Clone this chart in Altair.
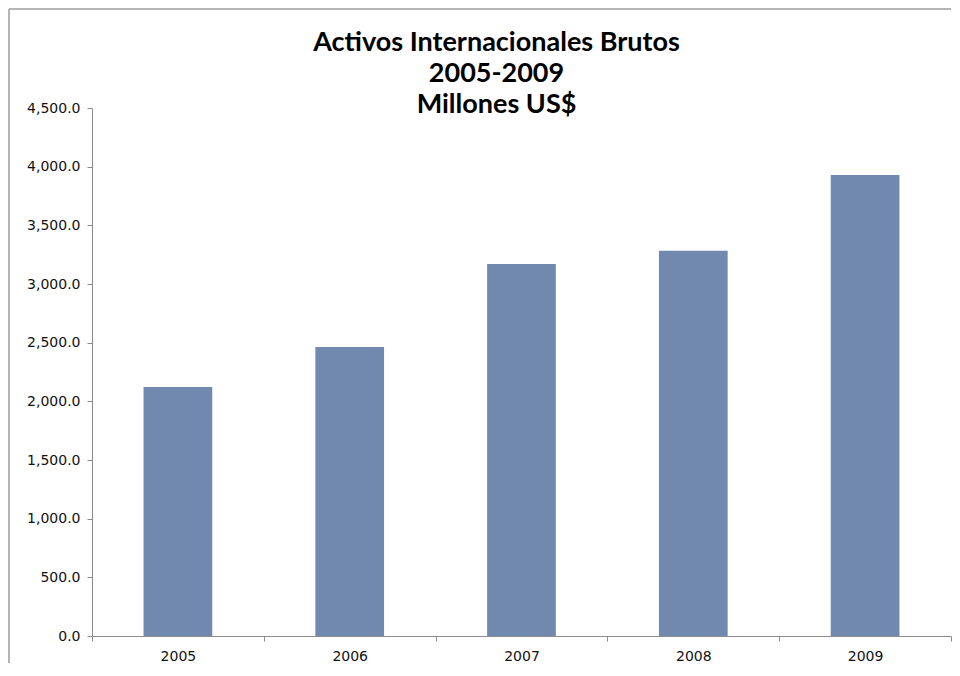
import altair as alt
import pandas as pd

years = ["2005", "2006", "2007", "2008", "2009"]
values = [2122.0, 2463.0, 3170.0, 3283.0, 3929.0]
y_ticks = [0, 500, 1000, 1500, 2000, 2500, 3000, 3500, 4000, 4500]
title_lines = ["Activos Internacionales Brutos", "2005-2009", "Millones US$"]

df = pd.DataFrame({"year": years, "value": values})

bars = alt.Chart(df).mark_bar(
    width=alt.RelativeBandSize(0.4), color="#7189AF"
).encode(
    x=alt.X("year:N", title=None, sort=years,
            scale=alt.Scale(paddingInner=0, paddingOuter=0),
            axis=alt.Axis(labelAngle=0, tickBand="extent", tickSize=5,
                          labelPadding=8, domainColor="#8c8c8c", tickColor="#8c8c8c",
                          labelFont="DejaVu Sans", labelFontSize=14, labelColor="#111")),
    y=alt.Y("value:Q", title=None,
            scale=alt.Scale(domain=[0, 4500], nice=False),
            axis=alt.Axis(values=y_ticks, format=",.1f", grid=False, tickSize=5,
                          labelPadding=7, domainColor="#8c8c8c", tickColor="#8c8c8c",
                          labelFont="DejaVu Sans", labelFontSize=14, labelColor="#111")),
)

border_top = alt.Chart(df).mark_rule(color="#b4b4b4", strokeWidth=1.5).encode(
    x=alt.value(-83), x2=alt.value(859), y=alt.value(-99)
)
border_left = alt.Chart(df).mark_rule(color="#b4b4b4", strokeWidth=1.5).encode(
    x=alt.value(-83), y=alt.value(-99), y2=alt.value(555)
)

chart = alt.layer(bars, border_top, border_left).properties(
    width=859, height=528,
    padding=0,
    title=alt.TitleParams(
        text=title_lines, anchor="middle", frame="group", dx=-25,
        font="Lato", fontSize=27, fontWeight="bold", lineHeight=31,
        color="#000", offset=-111,
    ),
).configure_view(stroke=None)

chart.save("out.html", embed_options={"renderer": "svg", "actions": False})
